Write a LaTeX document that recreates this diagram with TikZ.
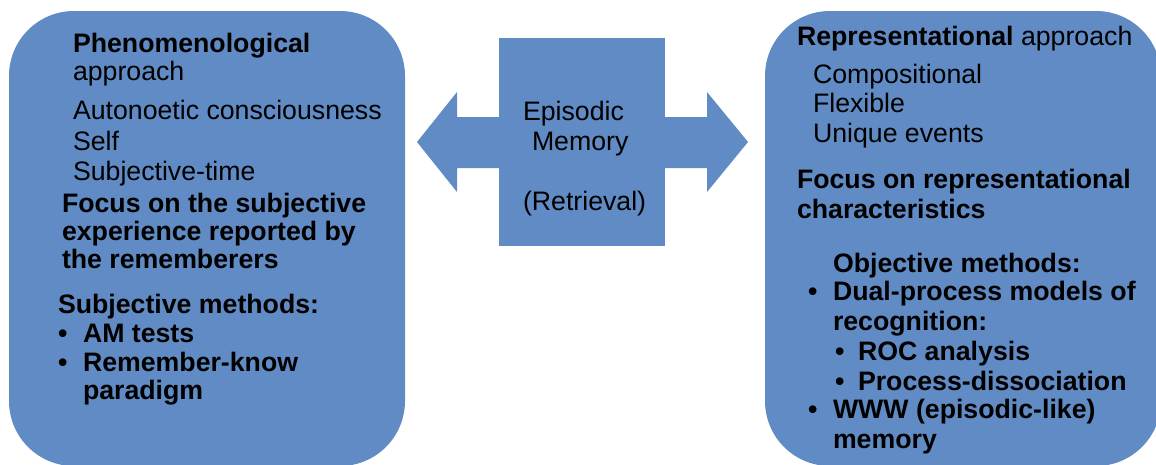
\documentclass[tikz,border=0pt]{standalone}
\usepackage{fontspec}
\setmainfont{Liberation Sans}
\definecolor{boxblue}{RGB}{97,139,196}
\newcommand{\fsz}{\fontsize{26.7}{30}\selectfont}
\tikzset{
  txt/.style={anchor=base west, inner sep=0pt, outer sep=0pt, font=\fsz, text=black},
  btxt/.style={txt, font=\fsz\bfseries},
  panel/.style={fill=boxblue, draw=none, rounded corners=65pt},
}
\begin{document}
\begin{tikzpicture}[x=1pt,y=-1pt]
\useasboundingbox (0,0) rectangle (1156,464);
% panels
\fill[panel] (9,11) rectangle (405,466);
\fill[panel] (765,11) rectangle (1161,466);
% double arrow
\fill[boxblue] (417,142) -- (457,92) -- (457,117) -- (707,117) -- (707,92) -- (748,142)
  -- (707,192) -- (707,168) -- (457,168) -- (457,192) -- cycle;
\node[fill=boxblue, inner sep=0pt, minimum width=166pt, minimum height=208pt] (em) at (582,142) {};
% center text
\node[txt] (c1) at (523,120) {Episodic};
\node[txt] (c2) at (532,150) {Memory};
\node[txt] (c3) at (523,210) {(Retrieval)};
% left panel
\node[btxt] (l1) at (73,52) {Phenomenological};
\node[txt] (l2) at (73,80) {approach};
\node[txt] (l3) at (73,119) {Autonoetic consciousness};
\node[txt] (l4) at (73,150) {Self};
\node[txt] (l5) at (73,180) {Subjective-time};
\node[btxt] (l6) at (62,212) {Focus on the subjective};
\node[btxt] (l7) at (62,240) {experience reported by};
\node[btxt] (l8) at (62,268) {the rememberers};
\node[btxt] (l9) at (58,313) {Subjective methods:};
\node[btxt] (lb1) at (58,342) {•};
\node[btxt] (l10) at (83,342) {AM tests};
\node[btxt] (lb2) at (58,371) {•};
\node[btxt] (l11) at (83,371) {Remember-know};
\node[btxt] (l12) at (83,399) {paradigm};
% right panel
\node[txt] (r1) at (797,45) {\textbf{Representational} approach};
\node[txt] (r2) at (813,83) {Compositional};
\node[txt] (r3) at (813,112) {Flexible};
\node[txt] (r4) at (813,142) {Unique events};
\node[btxt] (r5) at (797,188) {Focus on representational};
\node[btxt] (r6) at (797,218) {characteristics};
\node[btxt] (r7) at (833,272) {Objective methods:};
\node[btxt] (rb1) at (808,300) {•};
\node[btxt] (r8) at (833,300) {Dual-process models of};
\node[btxt] (r9) at (833,330) {recognition:};
\node[btxt] (rb2) at (835,360) {•};
\node[btxt] (r10) at (858,360) {ROC analysis};
\node[btxt] (rb3) at (835,390) {•};
\node[btxt] (r11) at (858,390) {Process-dissociation};
\node[btxt] (rb4) at (808,418) {•};
\node[btxt] (r12) at (833,418) {WWW (episodic-like)};
\node[btxt] (r13) at (833,448) {memory};
\end{tikzpicture}
\end{document}
